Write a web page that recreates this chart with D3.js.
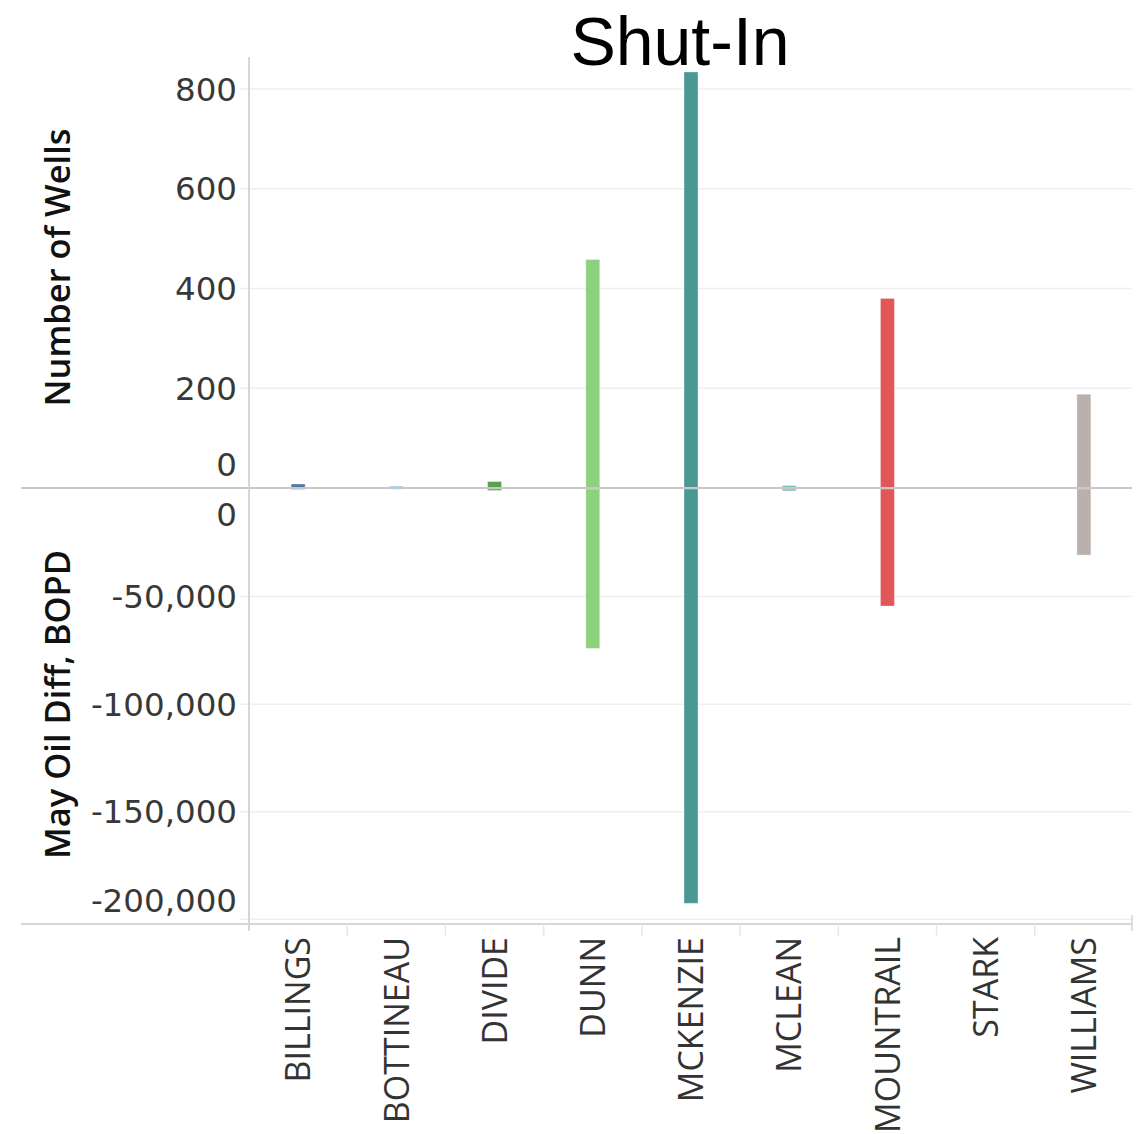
<!DOCTYPE html>
<html>
<head>
<meta charset="utf-8">
<script src="https://cdn.jsdelivr.net/npm/d3@7"></script>
<style>
  html, body { margin: 0; padding: 0; background: #fff; }
  svg { display: block; }
</style>
</head>
<body>
<svg id="chart" width="1140" height="1134"></svg>
<script>
// ---- data ----
const counties = ["BILLINGS", "BOTTINEAU", "DIVIDE", "DUNN", "MCKENZIE", "MCLEAN", "MOUNTRAIL", "STARK", "WILLIAMS"];
const wells = [8, 4, 13, 458, 834, 5, 380, 0, 188];
const oilDiff = [-150, -100, -700, -74100, -192600, -900, -54400, 0, -30700];
const colors = ["#4e79a7", "#a0cbe8", "#59a14f", "#8cd17d", "#499894", "#86bcb6", "#e15759", "#79706e", "#bab0ac"];
const wellTicks = [0, 200, 400, 600, 800];
const oilTicks = [0, -50000, -100000, -150000, -200000];
const title = "Shut-In";

// ---- layout ----
const svg = d3.select("#chart");
const plotL = 249, plotR = 1132, frameL = 21;
const topTop = 57, zeroY = 488, botZero = 489, botBottom = 924;

const x = d3.scaleBand().domain(counties).range([plotL, plotR + 1]).padding(0);
const yTop = d3.scaleLinear().domain([0, 864]).range([zeroY, topTop]);
const yBot = d3.scaleLinear().domain([0, -202200]).range([botZero, botBottom]);
const barW = 14;

// gridlines
svg.append("g").selectAll("line").data(wellTicks.filter(d => d !== 0)).join("line")
  .attr("x1", 240).attr("x2", plotR).attr("y1", d => yTop(d)).attr("y2", d => yTop(d))
  .attr("stroke", "#efefef").attr("stroke-width", 1.5);
svg.append("g").selectAll("line").data(oilTicks.filter(d => d !== 0)).join("line")
  .attr("x1", 240).attr("x2", plotR).attr("y1", d => yBot(d)).attr("y2", d => yBot(d))
  .attr("stroke", "#efefef").attr("stroke-width", 1.5);

// bars
const data = counties.map((c, i) => ({ c, w: wells[i], o: oilDiff[i], col: colors[i] }));
svg.append("g").selectAll("rect").data(data).join("rect")
  .attr("x", d => x(d.c) + x.bandwidth() / 2 - barW / 2)
  .attr("width", barW)
  .attr("y", d => yTop(d.w))
  .attr("height", d => yTop(0) - yTop(d.w))
  .attr("fill", d => d.col)
  .attr("stroke", "#ffffff").attr("stroke-opacity", 0.35).attr("stroke-width", 1);
svg.append("g").selectAll("rect").data(data).join("rect")
  .attr("x", d => x(d.c) + x.bandwidth() / 2 - barW / 2)
  .attr("width", barW)
  .attr("y", d => yBot(0))
  .attr("height", d => yBot(d.o) - yBot(0))
  .attr("fill", d => d.col)
  .attr("stroke", "#ffffff").attr("stroke-opacity", 0.35).attr("stroke-width", 1);

// frame lines
svg.append("line").attr("x1", frameL).attr("x2", plotR).attr("y1", zeroY).attr("y2", zeroY)
  .attr("stroke", "#c8c8c8").attr("stroke-width", 2);
svg.append("line").attr("x1", frameL).attr("x2", plotR).attr("y1", botBottom).attr("y2", botBottom)
  .attr("stroke", "#d6d6d6").attr("stroke-width", 2);
svg.append("line").attr("x1", plotL).attr("x2", plotL).attr("y1", topTop).attr("y2", 931)
  .attr("stroke", "#d6d6d6").attr("stroke-width", 2);
svg.append("line").attr("x1", plotR).attr("x2", plotR).attr("y1", 915).attr("y2", 931)
  .attr("stroke", "#d6d6d6").attr("stroke-width", 1.5);

// band dividers under the axis
const bounds = counties.slice(1).map(c => x(c));
svg.append("g").selectAll("line").data(bounds).join("line")
  .attr("x1", d => d).attr("x2", d => d).attr("y1", botBottom).attr("y2", 936)
  .attr("stroke", "#e8e8e8").attr("stroke-width", 1.5);

// tick labels
const tickFont = "'DejaVu Sans', sans-serif";
const fmt = d3.format(",");
svg.append("g").selectAll("text").data(wellTicks).join("text")
  .attr("x", 237)
  .attr("y", d => Math.min(yTop(d), zeroY - 24))
  .attr("dy", "0.36em")
  .attr("text-anchor", "end")
  .attr("font-family", tickFont).attr("font-size", 32.5).attr("fill", "#383838")
  .text(d => fmt(d));
svg.append("g").selectAll("text").data(oilTicks).join("text")
  .attr("x", 237)
  .attr("y", d => Math.max(Math.min(yBot(d), botBottom - 24), botZero + 25))
  .attr("dy", "0.36em")
  .attr("text-anchor", "end")
  .attr("font-family", tickFont).attr("font-size", 32.5).attr("fill", "#383838")
  .text(d => d === 0 ? "0" : "-" + fmt(-d));

// category labels
svg.append("g").selectAll("text").data(counties).join("text")
  .attr("transform", d => `translate(${x(d) + x.bandwidth() / 2},937) rotate(-90)`)
  .attr("dy", "0.36em")
  .attr("text-anchor", "end")
  .attr("font-family", "'Open Sans', sans-serif").attr("font-size", 34).attr("fill", "#333")
  .text(d => d);

// axis titles
svg.append("text")
  .attr("transform", `translate(70,${(topTop + zeroY) / 2 - 5}) rotate(-90)`)
  .attr("text-anchor", "middle")
  .attr("font-family", "'Open Sans', sans-serif").attr("font-weight", 600)
  .attr("font-size", 34.5).attr("fill", "#111")
  .text("Number of Wells");
svg.append("text")
  .attr("transform", `translate(70,${(botZero + botBottom) / 2 - 2}) rotate(-90)`)
  .attr("text-anchor", "middle")
  .attr("font-family", "'Open Sans', sans-serif").attr("font-weight", 600)
  .attr("font-size", 34.5).attr("fill", "#111")
  .text("May Oil Diff, BOPD");

// title
svg.append("text")
  .attr("x", 680).attr("y", 65)
  .attr("text-anchor", "middle")
  .attr("font-family", "'Liberation Sans', Arial, sans-serif")
  .attr("font-size", 68).attr("fill", "#000")
  .text(title);
</script>
</body>
</html>
